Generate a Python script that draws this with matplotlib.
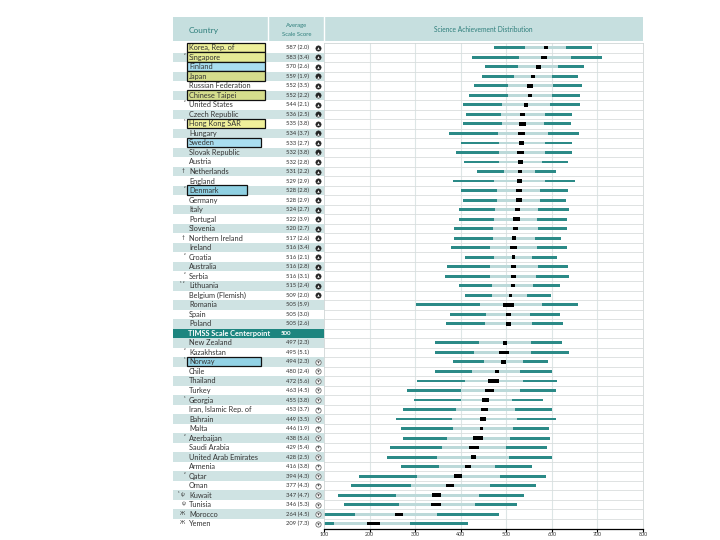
import matplotlib
matplotlib.use('Agg')

import matplotlib.pyplot as plt
from matplotlib.patches import Rectangle

plt.rcParams['font.family'] = ['Lato', 'DejaVu Sans']

# --- data -------------------------------------------------------------
countries = ['Korea, Rep. of', 'Singapore', 'Finland', 'Japan', 'Russian Federation',
             'Chinese Taipei', 'United States', 'Czech Republic', 'Hong Kong SAR', 'Hungary',
             'Sweden', 'Slovak Republic', 'Austria', 'Netherlands', 'England',
             'Denmark', 'Germany', 'Italy', 'Portugal', 'Slovenia',
             'Northern Ireland', 'Ireland', 'Croatia', 'Australia', 'Serbia',
             'Lithuania', 'Belgium (Flemish)', 'Romania', 'Spain', 'Poland',
             'TIMSS Scale Centerpoint', 'New Zealand', 'Kazakhstan', 'Norway', 'Chile',
             'Thailand', 'Turkey', 'Georgia', 'Iran, Islamic Rep. of', 'Bahrain',
             'Malta', 'Azerbaijan', 'Saudi Arabia', 'United Arab Emirates', 'Armenia',
             'Qatar', 'Oman', 'Kuwait', 'Tunisia', 'Morocco', 'Yemen']
notes = ['', '²', '', '', '', '', '²', '', '¹', '', '', '', '', '†', '',
         '²', '', '', '', '', '†', '', '²', '', '²', '¹ ²', '', '', '', '', '',
         '', '²', '¹', '', '', '', '¹', '', '', '', '²', '', '', '',
         '²', '', '¹ ψ', 'ψ', 'Ж', 'Ж']
means = [587, 583, 570, 559, 552, 552, 544, 536, 535, 534,
         533, 532, 532, 531, 529, 528, 528, 524, 522, 520,
         517, 516, 516, 516, 516, 515, 509, 505, 505, 505,
         500, 497, 495, 494, 480, 472, 463, 455, 453, 449,
         446, 438, 429, 428, 416, 394, 377, 347, 346, 264, 209]
ses = [2.0, 3.4, 2.6, 1.9, 3.5, 2.2, 2.1, 2.5, 3.8, 3.7,
       2.7, 3.8, 2.8, 2.2, 2.9, 2.8, 2.9, 2.7, 3.9, 2.7,
       2.6, 3.4, 2.1, 2.8, 3.1, 2.4, 2.0, 5.9, 3.0, 2.6,
       None, 2.3, 5.1, 2.3, 2.4, 5.6, 4.5, 3.8, 3.7, 3.5,
       1.9, 5.6, 5.4, 2.5, 3.8, 4.3, 4.3, 4.7, 5.3, 4.5, 7.3]
p5 = [474, 425, 454, 447, 429, 419, 404, 412, 404, 375,
      401, 389, 407, 436, 382, 400, 404, 396, 396, 386,
      386, 378, 409, 370, 365, 396, 409, 301, 376, 368,
      None, 343, 343, 382, 343, 303, 282, 298, 274, 259,
      270, 274, 244, 238, 270, 177, 160, 130, 143, 70, 40]
p25 = [542, 528, 525, 517, 504, 504, 491, 489, 491, 482,
       485, 485, 484, 496, 474, 480, 480, 476, 474, 471,
       471, 465, 474, 465, 465, 469, 469, 443, 456, 453,
       None, 441, 429, 452, 425, 410, 401, 401, 389, 381,
       383, 369, 358, 349, 353, 303, 290, 257, 264, 169, 121]
p75 = [630, 641, 613, 600, 602, 600, 596, 585, 583, 592,
       584, 584, 579, 564, 585, 574, 574, 570, 568, 570,
       563, 568, 556, 569, 566, 559, 546, 579, 553, 557,
       None, 555, 555, 536, 531, 537, 529, 512, 520, 523,
       514, 509, 500, 507, 476, 487, 465, 441, 431, 349, 288]
p95 = [688, 710, 671, 657, 666, 662, 662, 645, 641, 660,
       645, 645, 636, 610, 651, 636, 631, 638, 634, 634,
       620, 634, 612, 636, 638, 618, 598, 658, 618, 625,
       None, 623, 638, 591, 601, 612, 609, 581, 601, 609,
       594, 596, 590, 601, 556, 587, 566, 539, 524, 484, 415]
# 1 = significantly above centerpoint, -1 = below, 0 = not different
signif = [1] * 27 + [0, 0, 0, 0, 0, 0] + [-1] * 18
# highlighted countries: (row, colour)
highlights = [(0, '#eef09a'), (1, '#e4ea95'), (2, '#a9def0'), (3, '#d5dd8c'),
              (5, '#d5dd8c'), (8, '#f0f09a'), (10, '#a9def0'), (15, '#8fd0e2'),
              (33, '#93d2e5')]
highlight_width = {15: 60, 10: 74, 33: 74}
ticks = [100, 200, 300, 400, 500, 600, 700, 800]

# --- layout (pixels) ----------------------------------------------------
TOP = 43.0
ROW = 9.52
X0, XC, XS, XP, X1 = 173, 268, 311, 324, 643
stripe = '#cfe3e3'
head = '#c6dfdf'
teal = '#2b8a87'
light = '#bcd9d9'
txt = '#333333'
hdr_txt = '#2f7f7c'

fig = plt.figure(figsize=(7.2, 5.4), dpi=100)
ax0 = fig.add_axes([0, 0, 1, 1])
ax0.set_xlim(0, 720)
ax0.set_ylim(540, 0)
ax0.axis('off')

# header
ax0.add_patch(Rectangle((X0, 17), X1 - X0, 24, color=head, lw=0))
for xs in (XC, XP):
    ax0.plot([xs, xs], [17, 41], color='white', lw=1)
ax0.text(189, 30, 'Country', fontsize=6, color=hdr_txt, va='center')
ax0.text(297, 25, 'Average', fontsize=4.2, color=hdr_txt, ha='center', va='center')
ax0.text(297, 34, 'Scale Score', fontsize=4.2, color=hdr_txt, ha='center', va='center')
ax0.text((XP + X1) / 2, 30, 'Science Achievement Distribution', fontsize=4.8,
         color=hdr_txt, ha='center', va='center')

n = len(countries)
for i, name in enumerate(countries):
    y0 = TOP + i * ROW
    yc = y0 + ROW / 2
    if ses[i] is None:
        ax0.add_patch(Rectangle((X0, y0), XP - X0, ROW, color='#1d857f', lw=0))
        ax0.text(188, yc, name, fontsize=5.3, color='white', weight='bold', va='center')
        ax0.text(281, yc, str(means[i]), fontsize=4.4, color='white', weight='bold', va='center')
        continue
    if i % 2 == 1:
        ax0.add_patch(Rectangle((X0, y0), XP - X0, ROW, color=stripe, lw=0))
    ax0.text(309, yc, f'{means[i]} ({ses[i]:.1f})', fontsize=4.2, color=txt,
             ha='right', va='center')
    if notes[i]:
        ax0.text(185, yc - 1, notes[i], fontsize=3.6, color=txt, ha='right', va='center')
    if signif[i] == 1:
        ax0.plot(317.5, yc, 'o', ms=3.8, mfc='#222222', mec='#222222', mew=0.4)
        ax0.plot(317.5, yc + 0.2, '^', ms=1.8, mfc='white', mec='white', mew=0)
    elif signif[i] == -1:
        ax0.plot(317.5, yc, 'o', ms=3.8, mfc='white', mec='#555555', mew=0.5)
        ax0.plot(317.5, yc - 0.2, 'v', ms=1.8, mfc='#444444', mec='#444444', mew=0)

for i, col in highlights:
    y0 = TOP + i * ROW
    w = highlight_width.get(i, 78)
    ax0.add_patch(Rectangle((187, y0 - 0.5), w, ROW, facecolor=col,
                            edgecolor='#111111', lw=0.9, zorder=3))

for i, name in enumerate(countries):
    if ses[i] is None:
        continue
    yc = TOP + i * ROW + ROW / 2
    ax0.text(189, yc, name, fontsize=5.3, color=txt, va='center', zorder=4)

# --- distribution plot ------------------------------------------------
bottom = TOP + n * ROW
ax1 = fig.add_axes([XP / 720, 1 - bottom / 540, (X1 - XP) / 720, (bottom - TOP) / 540])
ax1.set_xlim(100, 800)
ax1.set_ylim(n - 0.5, -0.5)
ax1.patch.set_alpha(0)
for t in ticks[1:-1]:
    ax1.axvline(t, color='#dde6e6', lw=0.8, zorder=0)
for i in range(n):
    ax1.axhline(i + 0.5, color='#d9dddd', lw=0.6, zorder=0)

for i in range(n):
    if ses[i] is None:
        continue
    ax1.barh(i, p25[i] - p5[i], left=p5[i], height=0.3, color=teal, lw=0, zorder=2)
    ax1.barh(i, p75[i] - p25[i], left=p25[i], height=0.3, color=light, lw=0, zorder=2)
    ax1.barh(i, p95[i] - p75[i], left=p75[i], height=0.3, color=teal, lw=0, zorder=2)
    ax1.barh(i, 4 * ses[i], left=means[i] - 2 * ses[i], height=0.36, color='black',
             lw=0, zorder=3)

ax1.set_xticks(ticks)
ax1.set_xticklabels([str(t) for t in ticks], fontsize=3.8, color=txt)
ax1.set_yticks([])
ax1.tick_params(axis='x', length=2, width=0.8, pad=0.8)
for s in ('top', 'right', 'left'):
    ax1.spines[s].set_color('#d0d6d6')
    ax1.spines[s].set_linewidth(0.6)
ax1.spines['bottom'].set_color('black')
ax1.spines['bottom'].set_linewidth(0.9)

fig.savefig('out.png', dpi=100)
